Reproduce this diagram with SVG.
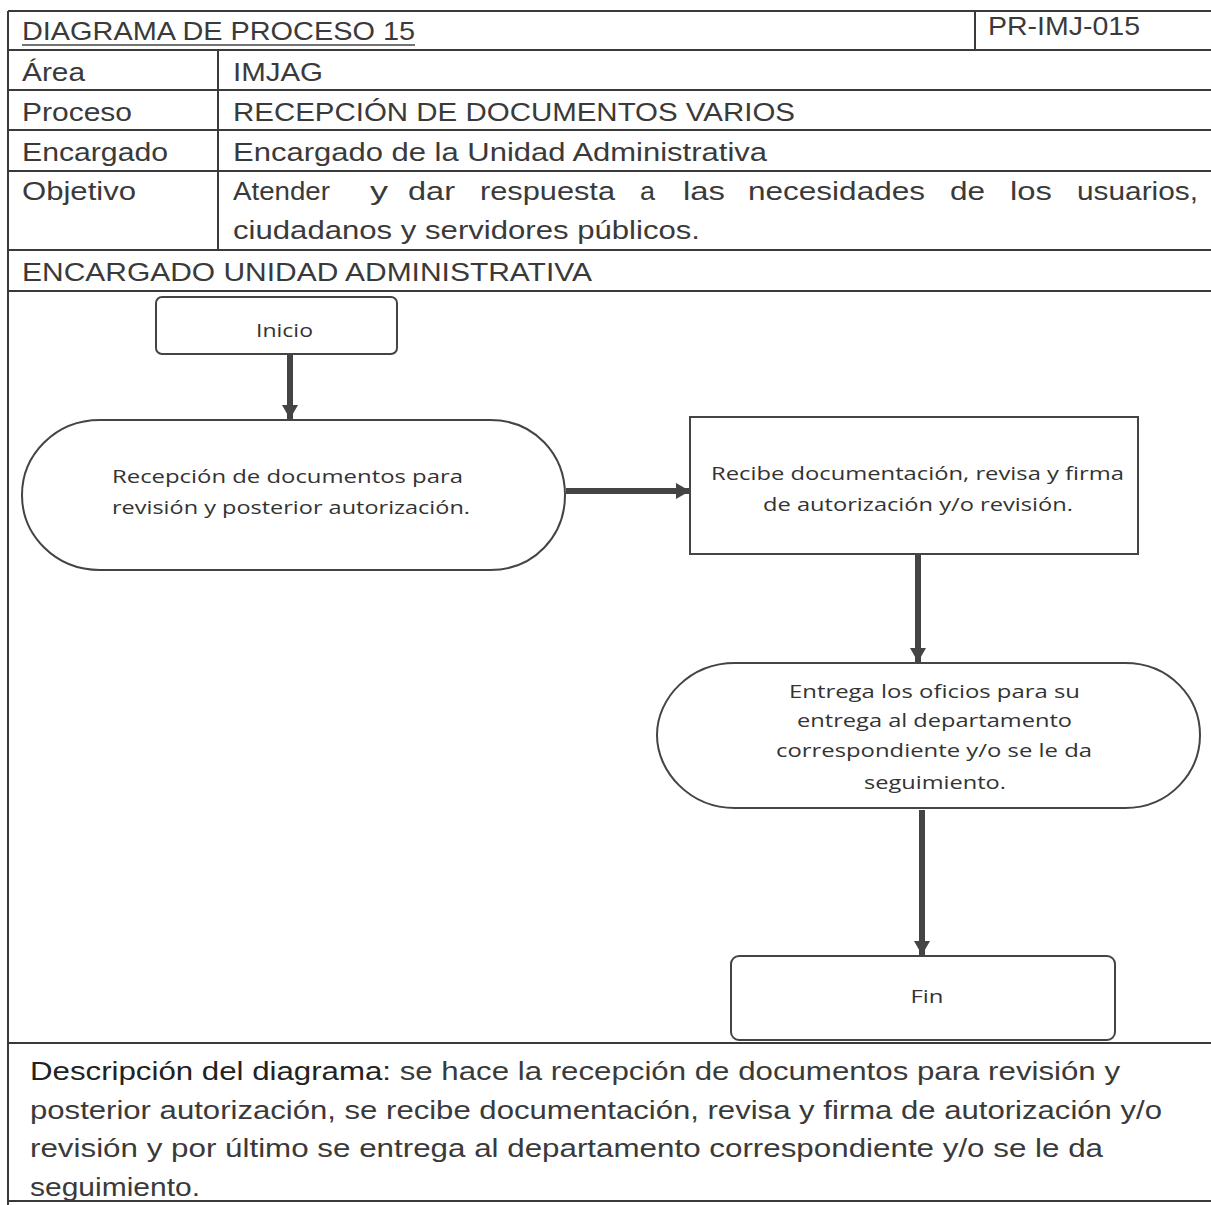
<svg xmlns="http://www.w3.org/2000/svg" width="1211" height="1205" viewBox="0 0 1211 1205">
<style>
.grid{stroke:#3a3a3a;stroke-width:2;fill:none}
.hd{font-family:"Liberation Sans",Arial,sans-serif;font-size:26px;fill:#3a3a3a}
.fl{font-family:"Open Sans","Liberation Sans",sans-serif;font-size:19px;fill:#333}
.node{fill:#fff;stroke:#444;stroke-width:2}
.conn{stroke:#444;stroke-width:6;fill:none}
</style>
<defs>
<marker id="ah" markerUnits="userSpaceOnUse" markerWidth="20" markerHeight="20" refX="14" refY="8" orient="auto">
<path d="M0,0 L14,8 L0,16 Z" fill="#444"/>
</marker>
</defs>
<rect width="1211" height="1205" fill="#fff"/>
<g id="table">
<line class="grid" x1="8" y1="11" x2="1211" y2="11"/>
<line class="grid" x1="8" y1="11" x2="8" y2="1205"/>
<line class="grid" x1="975" y1="11" x2="975" y2="50"/>
<line class="grid" x1="8" y1="50" x2="1211" y2="50"/>
<line class="grid" x1="8" y1="90" x2="1211" y2="90"/>
<line class="grid" x1="8" y1="130" x2="1211" y2="130"/>
<line class="grid" x1="8" y1="171" x2="1211" y2="171"/>
<line class="grid" x1="8" y1="250" x2="1211" y2="250"/>
<line class="grid" x1="8" y1="291" x2="1211" y2="291"/>
<line class="grid" x1="218" y1="50" x2="218" y2="250"/>
<line class="grid" x1="8" y1="1043" x2="1211" y2="1043"/>
<line class="grid" x1="8" y1="1201" x2="1211" y2="1201"/>
<text class="hd" x="22" y="40" textLength="393" lengthAdjust="spacingAndGlyphs">DIAGRAMA DE PROCESO 15</text>
<line x1="22" y1="45" x2="415" y2="45" stroke="#444" stroke-width="1.5"/>
<text class="hd" x="988" y="35" textLength="152" lengthAdjust="spacingAndGlyphs">PR-IMJ-015</text>
<text class="hd" x="22" y="81" textLength="63" lengthAdjust="spacingAndGlyphs">Área</text>
<text class="hd" x="233" y="81" textLength="90" lengthAdjust="spacingAndGlyphs">IMJAG</text>
<text class="hd" x="22" y="121" textLength="110" lengthAdjust="spacingAndGlyphs">Proceso</text>
<text class="hd" x="233" y="121" textLength="562" lengthAdjust="spacingAndGlyphs">RECEPCIÓN DE DOCUMENTOS VARIOS</text>
<text class="hd" x="22" y="161" textLength="146" lengthAdjust="spacingAndGlyphs">Encargado</text>
<text class="hd" x="233" y="161" textLength="534" lengthAdjust="spacingAndGlyphs">Encargado de la Unidad Administrativa</text>
<text class="hd" x="22" y="200" textLength="114" lengthAdjust="spacingAndGlyphs">Objetivo</text>
<text class="hd" y="200" lengthAdjust="spacingAndGlyphs"><tspan x="233" textLength="97" lengthAdjust="spacingAndGlyphs">Atender</tspan> <tspan x="370" textLength="18" lengthAdjust="spacingAndGlyphs">y</tspan> <tspan x="408" textLength="47" lengthAdjust="spacingAndGlyphs">dar</tspan> <tspan x="480" textLength="135" lengthAdjust="spacingAndGlyphs">respuesta</tspan> <tspan x="640" textLength="15" lengthAdjust="spacingAndGlyphs">a</tspan> <tspan x="683" textLength="42" lengthAdjust="spacingAndGlyphs">las</tspan> <tspan x="748" textLength="177" lengthAdjust="spacingAndGlyphs">necesidades</tspan> <tspan x="950" textLength="35" lengthAdjust="spacingAndGlyphs">de</tspan> <tspan x="1010" textLength="42" lengthAdjust="spacingAndGlyphs">los</tspan> <tspan x="1077" textLength="121" lengthAdjust="spacingAndGlyphs">usuarios,</tspan></text>
<text class="hd" x="233" y="239" textLength="467" lengthAdjust="spacingAndGlyphs">ciudadanos y servidores públicos.</text>
<text class="hd" x="22" y="281" textLength="570" lengthAdjust="spacingAndGlyphs">ENCARGADO UNIDAD ADMINISTRATIVA</text>
<text class="hd" x="30" y="1080" textLength="1090" lengthAdjust="spacingAndGlyphs"><tspan fill="#222">Descripción del diagrama:</tspan> se hace la recepción de documentos para revisión y</text>
<text class="hd" x="30" y="1119" textLength="1132" lengthAdjust="spacingAndGlyphs">posterior autorización, se recibe documentación, revisa y firma de autorización y/o</text>
<text class="hd" x="30" y="1157" textLength="1073" lengthAdjust="spacingAndGlyphs">revisión y por último se entrega al departamento correspondiente y/o se le da</text>
<text class="hd" x="30" y="1196" textLength="170" lengthAdjust="spacingAndGlyphs">seguimiento.</text>
</g>
<g id="connectors">
<line class="conn" x1="290" y1="355" x2="290" y2="419" marker-end="url(#ah)"/>
<line class="conn" x1="566" y1="491" x2="690" y2="491" marker-end="url(#ah)"/>
<line class="conn" x1="918" y1="555" x2="918" y2="662" marker-end="url(#ah)"/>
<line class="conn" x1="922" y1="810" x2="922" y2="955" marker-end="url(#ah)"/>
</g>
<g id="n-inicio">
<rect class="node" x="156" y="297" width="241" height="57" rx="6"/>
<text class="fl" x="284.5" y="337" text-anchor="middle" textLength="57" lengthAdjust="spacingAndGlyphs">Inicio</text>
</g>
<g id="n-recepcion">
<path class="node" d="M100,420 L490,420 C535,420 565,455 565,495 C565,535 535,570 490,570 L100,570 C55,570 22,535 22,495 C22,455 55,420 100,420 Z"/>
<text class="fl" x="112" y="483" textLength="351" lengthAdjust="spacingAndGlyphs">Recepción de documentos para</text>
<text class="fl" x="112" y="514" textLength="358" lengthAdjust="spacingAndGlyphs">revisión y posterior autorización.</text>
</g>
<g id="n-recibe">
<rect class="node" x="690" y="417" width="448" height="137"/>
<text class="fl" x="711" y="480" textLength="413" lengthAdjust="spacingAndGlyphs">Recibe documentación, revisa y firma</text>
<text class="fl" x="763" y="511" textLength="310" lengthAdjust="spacingAndGlyphs">de autorización y/o revisión.</text>
</g>
<g id="n-entrega">
<path class="node" d="M735,663 L1125,663 C1170,663 1200,698 1200,735 C1200,772 1170,808 1125,808 L735,808 C690,808 657,772 657,735 C657,698 690,663 735,663 Z"/>
<text class="fl" x="789" y="698" textLength="291" lengthAdjust="spacingAndGlyphs">Entrega los oficios para su</text>
<text class="fl" x="797" y="727" textLength="275" lengthAdjust="spacingAndGlyphs">entrega al departamento</text>
<text class="fl" x="776" y="757" textLength="316" lengthAdjust="spacingAndGlyphs">correspondiente y/o se le da</text>
<text class="fl" x="864" y="789" textLength="142" lengthAdjust="spacingAndGlyphs">seguimiento.</text>
</g>
<g id="n-fin">
<rect class="node" x="731" y="956" width="384" height="84" rx="8"/>
<text class="fl" x="927" y="1003" text-anchor="middle" textLength="33" lengthAdjust="spacingAndGlyphs">Fin</text>
</g>
</svg>
